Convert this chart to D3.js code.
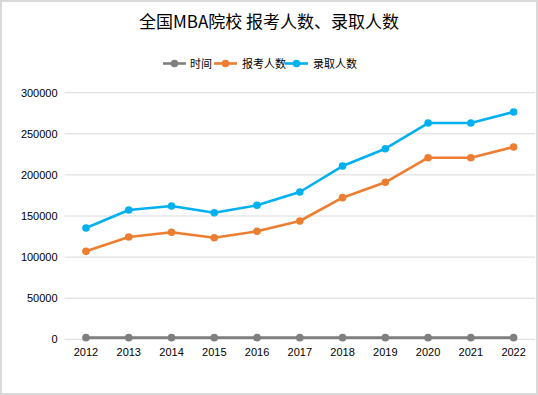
<!DOCTYPE html>
<html><head><meta charset="utf-8">
<script src="https://cdn.jsdelivr.net/npm/d3@7"></script>
<style>body{margin:0;background:#fff}svg{display:block}</style>
</head><body>
<script>
const years = ["2012","2013","2014","2015","2016","2017","2018","2019","2020","2021","2022"];
const timeValues = [2012,2013,2014,2015,2016,2017,2018,2019,2020,2021,2022];
const applicants = [107000,124500,130200,123600,131400,143900,172300,191000,220900,220900,233900];
const admitted = [135400,157300,162200,154000,163000,179200,210800,231900,263100,263100,276500];
const yTicks = [0,50000,100000,150000,200000,250000,300000];
const seriesNames = ["时间","报考人数","录取人数"];
const colors = ["#7f7f7f","#ed7d31","#00b0f0"];

const W=538,H=395;
const svg=d3.select("body").append("svg").attr("width",W).attr("height",H);
svg.append("rect").attr("x",1).attr("y",1).attr("width",W-2).attr("height",H-2)
  .attr("fill","#fff").attr("stroke","#d9d9d9").attr("stroke-width",2);

const font="'Liberation Sans', Arial, 'Noto Sans CJK SC', sans-serif";
svg.append("text").attr("x",269).attr("y",28).attr("text-anchor","middle")
  .attr("font-family","'Noto Sans CJK SC', sans-serif").attr("font-size",17).attr("fill","#000")
  .text("全国MBA院校 报考人数、录取人数");

const x=d3.scaleBand().domain(years).range([64.6,535]);
const y=d3.scaleLinear().domain([0,300000]).range([339.3,92.7]);

const g=svg.append("g");
g.selectAll("line.grid").data(yTicks).enter().append("line")
  .attr("x1",64.6).attr("x2",535).attr("y1",d=>y(d)).attr("y2",d=>y(d))
  .attr("stroke","#d9d9d9").attr("stroke-width",1);

const yAxis=d3.axisLeft(y).tickValues(yTicks).tickSize(0).tickPadding(7).tickFormat(d3.format("d"));
const ya=svg.append("g").attr("transform","translate(64.6,0)").call(yAxis);
ya.select(".domain").remove();
ya.selectAll("text").attr("font-family",font).attr("font-size",11).attr("fill","#000");

const xAxis=d3.axisBottom(x).tickSize(0).tickPadding(9);
const xa=svg.append("g").attr("transform","translate(0,339.3)").call(xAxis);
xa.select(".domain").remove();
xa.selectAll("text").attr("font-family",font).attr("font-size",11).attr("fill","#000");

const data=[timeValues,applicants,admitted];
const line=d3.line().x((d,i)=>x(years[i])+x.bandwidth()/2).y(d=>y(d));
data.forEach((vals,si)=>{
  svg.append("path").datum(vals).attr("d",line).attr("fill","none")
    .attr("stroke",colors[si]).attr("stroke-width",2.6).attr("stroke-linejoin","round");
  svg.selectAll("circle.s"+si).data(vals).enter().append("circle")
    .attr("cx",(d,i)=>x(years[i])+x.bandwidth()/2).attr("cy",d=>y(d)).attr("r",3.8)
    .attr("fill",colors[si]);
});

// legend
const legendItems=[{x:163,tx:190},{x:214,tx:242},{x:285,tx:313}];
legendItems.forEach((it,i)=>{
  const ly=63.5;
  svg.append("line").attr("x1",it.x).attr("x2",it.x+23).attr("y1",ly).attr("y2",ly)
    .attr("stroke",colors[i]).attr("stroke-width",2.6);
  svg.append("circle").attr("cx",it.x+11.5).attr("cy",ly).attr("r",3.8).attr("fill",colors[i]);
  svg.append("text").attr("x",it.tx).attr("y",ly+4).attr("font-family","'Noto Sans CJK SC', sans-serif")
    .attr("font-size",11).attr("fill","#000").text(seriesNames[i]);
});
</script>
</body></html>
